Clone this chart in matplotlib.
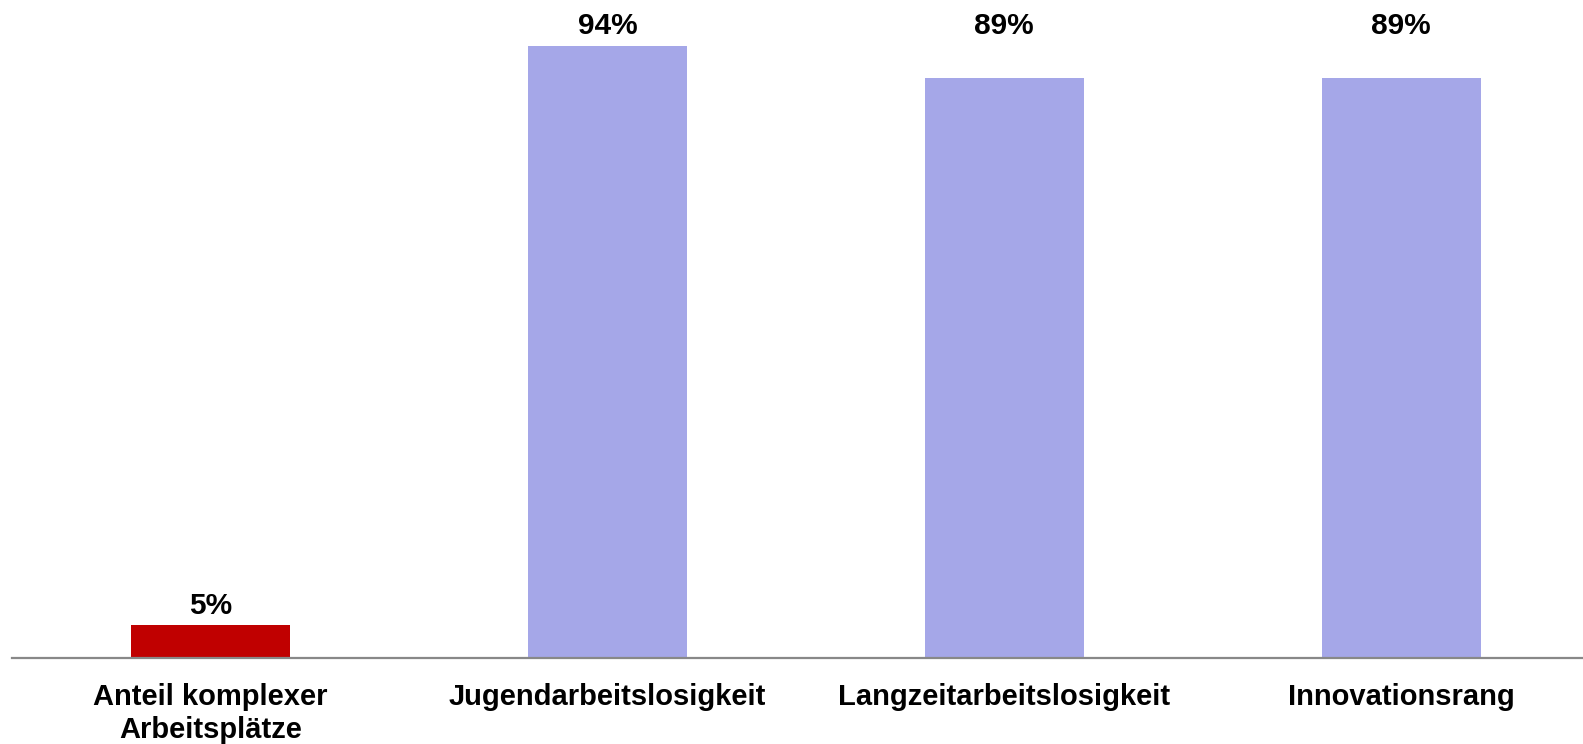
import matplotlib.pyplot as plt

categories = ["Anteil komplexer\nArbeitsplätze", "Jugendarbeitslosigkeit",
              "Langzeitarbeitslosigkeit", "Innovationsrang"]
values = [5, 94, 89, 89]
colors = ["#C00000", "#A5A7E8", "#A5A7E8", "#A5A7E8"]

plt.rcParams["font.family"] = ["Liberation Sans", "DejaVu Sans"]

fig = plt.figure(figsize=(15.83, 7.44), dpi=100)
ax = fig.add_axes([12 / 1583, 86 / 744, 1571 / 1583, 658 / 744])

x = list(range(len(categories)))
bars = ax.bar(x, values, width=0.4, color=colors, zorder=2)

# percentage labels; the tall bars share one label row at the top
top = max(values)
for b, v in zip(bars, values):
    y = top if v > top / 2 else v
    ax.annotate(f"{v}%", (b.get_x() + b.get_width() / 2, y),
                xytext=(0, 8.5), textcoords="offset points",
                ha="center", va="baseline", fontsize=21.5, fontweight="bold")

ax.set_xlim(-0.5, 3.458)
ax.set_ylim(0, 101)
ax.set_xticks(x)
ax.set_xticklabels(categories, fontsize=21, fontweight="bold", linespacing=1.25)
ax.tick_params(axis="x", length=0, pad=18)
ax.set_yticks([])

for side in ["top", "right", "left"]:
    ax.spines[side].set_visible(False)
ax.spines["bottom"].set_color("#888888")
ax.spines["bottom"].set_linewidth(1.6)

fig.savefig("out.png", dpi=100)
